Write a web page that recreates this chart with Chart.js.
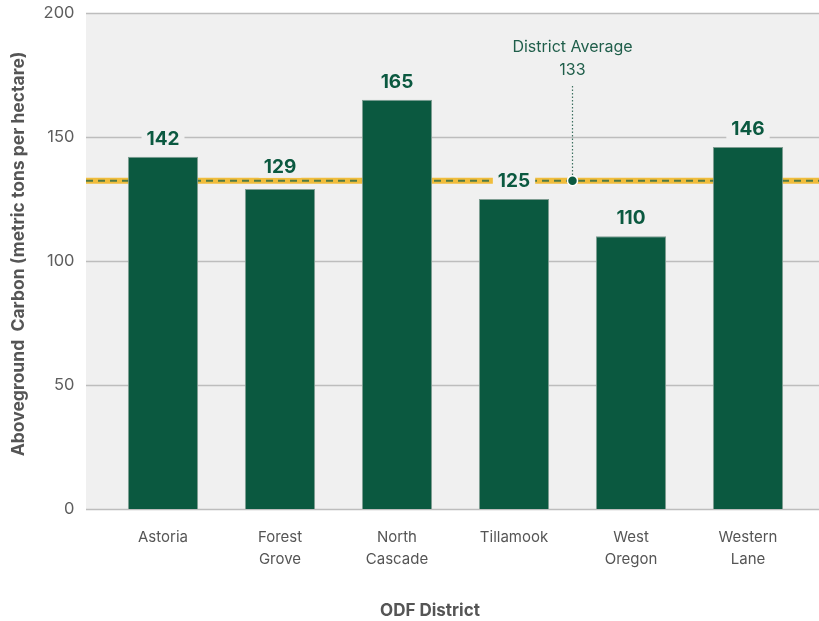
<!DOCTYPE html>
<html>
<head>
<meta charset="utf-8">
<script src="https://cdn.jsdelivr.net/npm/chart.js@4"></script>
<style>
  html, body { margin: 0; padding: 0; background: #fff; }
  #wrap { width: 819px; height: 621px; }
</style>
</head>
<body>
<div id="wrap"><canvas id="carbonChart" width="819" height="621"></canvas></div>
<script>
const districts = [["Astoria"], ["Forest", "Grove"], ["North", "Cascade"], ["Tillamook"], ["West", "Oregon"], ["Western", "Lane"]];
const carbonValues = [142, 129, 165, 125, 110, 146];
const districtAverage = 133;
const yTicks = [0, 50, 100, 150, 200];

const FONT = "Inter, 'Open Sans', sans-serif";
const GREEN = "#0b5940";
const PANEL = "#f0f0f0";

// grey panel + horizontal rules, wider than the bar area
const panelPlugin = {
  id: "panel",
  beforeDraw(chart) {
    const { ctx, scales: { y } } = chart;
    const left = 86, right = chart.width;
    ctx.save();
    ctx.fillStyle = PANEL;
    ctx.fillRect(left, y.getPixelForValue(200), right - left, y.getPixelForValue(0) - y.getPixelForValue(200));
    ctx.strokeStyle = "#bdbdbd";
    ctx.lineWidth = 1.5;
    for (const t of yTicks) {
      const py = Math.round(y.getPixelForValue(t)) + 0.5;
      ctx.beginPath();
      ctx.moveTo(left, py);
      ctx.lineTo(right, py);
      ctx.stroke();
    }
    ctx.restore();
  },
  beforeDatasetsDraw(chart) {
    const { ctx, scales: { x, y } } = chart;
    const left = 86, right = chart.width;
    const ay = y.getPixelForValue(districtAverage) + 1.5;
    const ax = (x.getPixelForValue(3) + x.getPixelForValue(4)) / 2;
    ctx.save();
    // average band
    ctx.strokeStyle = "#f0bd3c";
    ctx.lineWidth = 6;
    ctx.beginPath();
    ctx.moveTo(left, ay);
    ctx.lineTo(right, ay);
    ctx.stroke();
    ctx.strokeStyle = "#4f7a45";
    ctx.lineWidth = 2;
    ctx.setLineDash([7, 5]);
    ctx.beginPath();
    ctx.moveTo(left, ay);
    ctx.lineTo(right, ay);
    ctx.stroke();
    // leader line to the annotation
    ctx.strokeStyle = "#3d7060";
    ctx.lineWidth = 1.2;
    ctx.setLineDash([1.5, 2]);
    ctx.beginPath();
    ctx.moveTo(ax, 86);
    ctx.lineTo(ax, ay);
    ctx.stroke();
    ctx.setLineDash([]);
    ctx.fillStyle = GREEN;
    ctx.strokeStyle = "#fff";
    ctx.lineWidth = 1.5;
    ctx.beginPath();
    ctx.arc(ax, ay, 5, 0, Math.PI * 2);
    ctx.fill();
    ctx.stroke();
    ctx.fillStyle = "#1f5e4a";
    ctx.font = "16px " + FONT;
    ctx.textAlign = "center";
    ctx.textBaseline = "middle";
    ctx.fillText("District Average", ax, 47);
    ctx.fillText(String(districtAverage), ax, 70);
    ctx.restore();
  },
  afterDatasetsDraw(chart) {
    const { ctx, scales: { y } } = chart;
    const meta = chart.getDatasetMeta(0);
    const ay = y.getPixelForValue(districtAverage) + 1.5;
    ctx.save();
    ctx.font = "bold 19px " + FONT;
    ctx.textAlign = "center";
    ctx.textBaseline = "middle";
    meta.data.forEach((bar, i) => {
      const txt = String(carbonValues[i]);
      const w = ctx.measureText(txt).width + 10;
      let cy = bar.y - 19;
      // labels that only clip the average band get lifted above it
      if (cy + 11 > ay - 3 && cy - 11 < ay + 3 && Math.abs(cy - ay) > 4) cy = ay - 3 - 11;
      ctx.fillStyle = PANEL;
      ctx.fillRect(bar.x - w / 2, cy - 11, w, 22);
      ctx.fillStyle = GREEN;
      ctx.fillText(txt, bar.x, cy + 1);
    });
    // axis titles
    ctx.fillStyle = "#555";
    ctx.font = "bold 17px " + FONT;
    ctx.fillText("ODF District", 430, 611);
    ctx.translate(19, 254);
    ctx.rotate(-Math.PI / 2);
    ctx.font = "bold 17.5px " + FONT;
    ctx.fillText("Aboveground  Carbon (metric tons per hectare)", 0, 0);
    ctx.restore();
  }
};

new Chart(document.getElementById("carbonChart"), {
  type: "bar",
  data: {
    labels: districts,
    datasets: [{
      data: carbonValues,
      backgroundColor: GREEN,
      borderColor: "#7f9d92",
      borderWidth: 1,
      borderSkipped: "bottom",
      barPercentage: 0.6,
      categoryPercentage: 1
    }]
  },
  options: {
    responsive: false,
    animation: false,
    layout: { padding: { top: 13, right: 12.5, left: 0, bottom: 0 } },
    plugins: { legend: { display: false }, tooltip: { enabled: false } },
    scales: {
      x: {
        grid: { display: false, drawTicks: false },
        border: { display: false },
        ticks: { color: "#555", font: { family: FONT, size: 15, lineHeight: 1.45 }, padding: 18, maxRotation: 0 },
        afterFit(scale) { scale.height = 112; scale.paddingLeft = 0; scale.paddingRight = 0; }
      },
      y: {
        min: 0,
        max: 200,
        grid: { display: false, drawTicks: false },
        border: { display: false },
        ticks: { stepSize: 50, color: "#5e5e5e", font: { family: FONT, size: 16.5 }, padding: 30 },
        afterFit(scale) { scale.width = 104.5; scale.paddingTop = 0; scale.paddingBottom = 0; }
      }
    }
  },
  plugins: [panelPlugin]
});
</script>
</body>
</html>
